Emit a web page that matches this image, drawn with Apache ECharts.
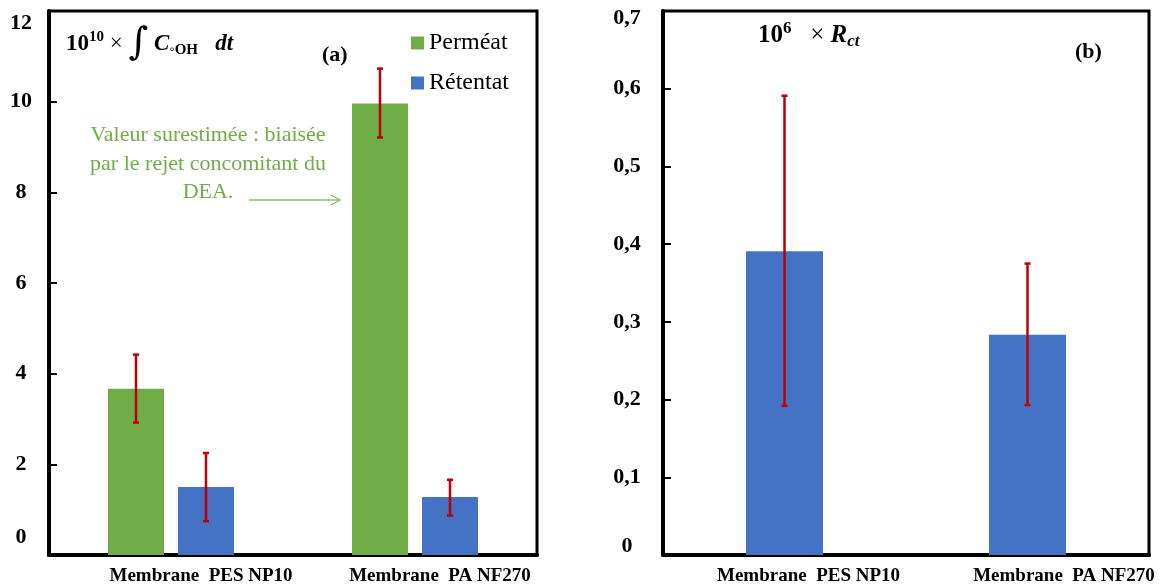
<!DOCTYPE html>
<html><head><meta charset="utf-8">
<script src="https://cdn.jsdelivr.net/npm/echarts@6/dist/echarts.min.js"></script>
<style>html,body{margin:0;padding:0;background:#fff}#c{width:1164px;height:586px}</style>
</head><body><div id="c"></div>
<script>
// ---- data ----
const categories = ['Membrane  PES NP10', 'Membrane  PA NF270'];
const permeat = [3.67, 9.96];
const permeatErr = [[2.92, 4.42], [9.21, 10.73]];
const retentat = [1.50, 1.28];
const retentatErr = [[0.745, 2.25], [0.87, 1.66]];
const rct = [0.391, 0.2835];
const rctErr = [[0.192, 0.591], [0.193, 0.375]];
const seriesNames = ['Perméat', 'Rétentat'];

// ---- style ----
const FONT = 'Liberation Serif';
const GREEN = '#70AD47', BLUE = '#4472C4', RED = '#C00000';
const BW_A = 56, GAP_A = 14, BW_B = 77;

const chart = echarts.init(document.getElementById('c'));

function errSeries(name, data, xi, yi, offset) {
  return {
    type: 'custom', name: name, xAxisIndex: xi, yAxisIndex: yi, z: 10, silent: true,
    data: data.map((d, i) => [i, d[0], d[1]]),
    renderItem: function (params, api) {
      const x = api.coord([api.value(0), 0])[0] + offset;
      const yl = api.coord([api.value(0), api.value(1)])[1];
      const yh = api.coord([api.value(0), api.value(2)])[1];
      const st = { stroke: RED, lineWidth: 2.5 };
      return { type: 'group', children: [
        { type: 'line', shape: { x1: x, y1: yl, x2: x, y2: yh }, style: st },
        { type: 'line', shape: { x1: x - 3, y1: yh, x2: x + 3, y2: yh }, style: st },
        { type: 'line', shape: { x1: x - 3, y1: yl, x2: x + 3, y2: yl }, style: st }
      ]};
    }
  };
}

const yLabBase = { fontFamily: FONT, fontWeight: 'bold', fontSize: 22, color: '#000' };
const xLabBase = { fontFamily: FONT, fontWeight: 'bold', fontSize: 19, color: '#000' };

function yAxisCfg(gi, min, max, interval, margin, fmt, padTop, padBot) {
  return { type: 'value', gridIndex: gi, min: min, max: max, interval: interval,
    splitLine: { show: false },
    axisLine: { show: true, lineStyle: { color: '#000', width: 4 } },
    axisTick: { show: true, inside: true, length: 8, lineStyle: { color: '#000', width: 2 } },
    axisLabel: { ...yLabBase, align: 'center', margin: margin,
      formatter: v => {
        const s = fmt(v);
        if (Math.abs(v - min) < 1e-9) return '{mn|' + s + '}';
        if (Math.abs(v - max) < 1e-9) return '{mx|' + s + '}';
        return s;
      },
      rich: { mx: { ...yLabBase, padding: [padTop, 0, 0, 0] }, mn: { ...yLabBase, padding: [0, 0, padBot, 0] } } } };
}
function xAxisCfg(gi, p0, p1) {
  return { type: 'category', gridIndex: gi, data: categories,
    axisLine: { lineStyle: { color: '#000', width: 4 } }, axisTick: { show: false },
    axisLabel: { interval: 0, margin: 12, ...xLabBase,
      formatter: (v, i) => '{c' + i + '|' + v + '}',
      rich: { c0: { ...xLabBase, padding: [0, 0, 0, p0] }, c1: { ...xLabBase, padding: [0, 0, 0, p1] } } } };
}

const option = {
  animation: false,
  backgroundColor: '#fff',
  grid: [
    { left: 49, right: 627, top: 11, bottom: 31, show: true, borderColor: '#000', borderWidth: 3 },
    { left: 663, right: 15, top: 11, bottom: 31, show: true, borderColor: '#000', borderWidth: 3 }
  ],
  legend: {
    data: seriesNames, orient: 'vertical', left: 406, top: 26,
    icon: 'rect', itemWidth: 13, itemHeight: 13, itemGap: 16,
    textStyle: { fontFamily: FONT, fontSize: 24, color: '#000' }
  },
  xAxis: [ xAxisCfg(0, 60, 50), xAxisCfg(1, 48, 73) ],
  yAxis: [
    yAxisCfg(0, 0, 12, 2, 28, v => String(v), 24, 35),
    yAxisCfg(1, 0, 0.7, 0.1, 36, v => Math.abs(v) < 1e-9 ? '0' : v.toFixed(1).replace('.', ','), 14, 18)
  ],
  series: [
    { type: 'bar', name: seriesNames[0], xAxisIndex: 0, yAxisIndex: 0, data: permeat,
      barWidth: BW_A, barGap: (GAP_A / BW_A * 100).toFixed(1) + '%', itemStyle: { color: GREEN } },
    { type: 'bar', name: seriesNames[1], xAxisIndex: 0, yAxisIndex: 0, data: retentat,
      barWidth: BW_A, itemStyle: { color: BLUE } },
    { type: 'bar', name: 'Rct', xAxisIndex: 1, yAxisIndex: 1, data: rct,
      barWidth: BW_B, itemStyle: { color: BLUE } },
    errSeries('errP', permeatErr, 0, 0, -(BW_A + GAP_A) / 2),
    errSeries('errR', retentatErr, 0, 0, (BW_A + GAP_A) / 2),
    errSeries('errB', rctErr, 1, 1, 0)
  ],
  graphic: [
    { type: 'text', left: 66, top: 25, z: 20, style: {
        text: '{b|10}{sup|10}{n| × }{int|∫}{bi| C}{sub|◦OH}{bi|   dt}',
        rich: {
          b: { fontFamily: FONT, fontWeight: 'bold', fontSize: 23, color: '#111', lineHeight: 44 },
          sup: { fontFamily: FONT, fontWeight: 'bold', fontSize: 15, color: '#111', lineHeight: 44, padding: [0, 0, 14, 0] },
          n: { fontFamily: FONT, fontSize: 23, color: '#111', lineHeight: 44 },
          int: { fontFamily: 'DejaVu Serif', fontSize: 38, color: '#111', lineHeight: 44 },
          bi: { fontFamily: FONT, fontWeight: 'bold', fontStyle: 'italic', fontSize: 23, color: '#111', lineHeight: 44 },
          sub: { fontFamily: FONT, fontWeight: 'bold', fontSize: 15, color: '#111', lineHeight: 44, padding: [12, 0, 0, 0] }
        } } },
    { type: 'text', left: 322, top: 44, z: 20, style: { text: '(a)', font: 'bold 22px "Liberation Serif"', fill: '#000' } },
    { type: 'text', left: 758, top: 20, z: 20, style: {
        text: '{b|10}{sup|6}{n|   × }{bi|R}{sub|ct}',
        rich: {
          b: { fontFamily: FONT, fontWeight: 'bold', fontSize: 25, color: '#111', lineHeight: 36 },
          sup: { fontFamily: FONT, fontWeight: 'bold', fontSize: 17, color: '#111', lineHeight: 36, padding: [0, 0, 14, 0] },
          n: { fontFamily: FONT, fontSize: 25, color: '#111', lineHeight: 36 },
          bi: { fontFamily: FONT, fontWeight: 'bold', fontStyle: 'italic', fontSize: 25, color: '#111', lineHeight: 36 },
          sub: { fontFamily: FONT, fontWeight: 'bold', fontStyle: 'italic', fontSize: 17, color: '#111', lineHeight: 36, padding: [12, 0, 0, 0] }
        } } },
    { type: 'text', left: 1075, top: 41, z: 20, style: { text: '(b)', font: 'bold 22px "Liberation Serif"', fill: '#000' } },
    { type: 'text', x: 208, y: 121, z: 20, style: {
        text: 'Valeur surestimée : biaisée\npar le rejet concomitant du\nDEA.',
        font: '22px "Liberation Serif"', fill: GREEN, align: 'center', verticalAlign: 'top', lineHeight: 28.5 } },
    { type: 'group', z: 20, children: [
        { type: 'line', shape: { x1: 249, y1: 200, x2: 340, y2: 200 }, style: { stroke: '#8CBF68', lineWidth: 1.3 } },
        { type: 'polyline', shape: { points: [[331, 195], [340, 200], [331, 205]] }, style: { stroke: '#8CBF68', lineWidth: 1.3, fill: null } }
    ] }
  ]
};
chart.setOption(option);
</script>
</body></html>
